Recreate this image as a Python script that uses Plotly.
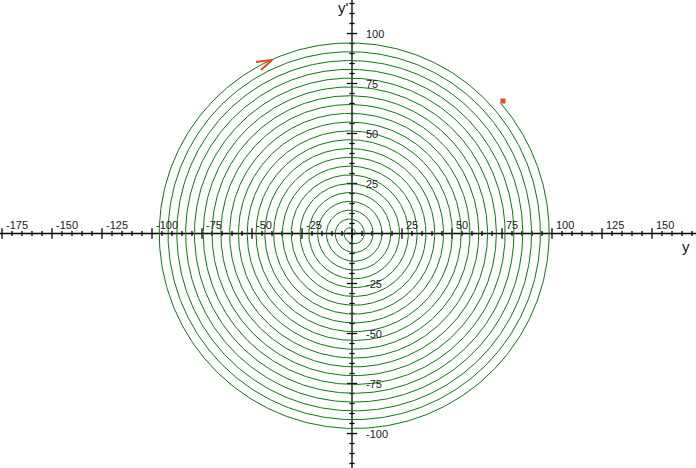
import numpy as np
import plotly.graph_objects as go

# ---- data ----
x_tick_labels = [-175, -150, -125, -100, -75, -50, -25, 25, 50, 75, 100, 125, 150]
y_tick_labels = [-100, -75, -50, -25, 25, 50, 75, 100]
marker_point = (75.5, 66.25)        # red square: initial state (y, y')
curve_start = (74.3, 65.2)          # where the green trajectory begins
friction = 1.1                       # amplitude lost per half swing / 2
arrow_pts_x = [-48.0, -40.0, -45.5]  # arrowhead barb - tip - barb
arrow_pts_y = [85.75, 86.75, 81.75]

X_RANGE = [-176, 172]
Y_RANGE = [-117.25, 116.75]

# ---- phase trajectory (clockwise, piecewise half circles) ----
xs, ys = [], []
y0, v0 = curve_start
c = -friction
R = np.hypot(y0 - c, v0)
a0 = np.arctan2(v0, y0 - c)
t = np.linspace(a0, 0, 120)
xs += list(c + R * np.cos(t)); ys += list(R * np.sin(t))
ext = c + R
upper = False
for _ in range(200):
    if abs(ext) <= friction:
        break
    c = friction if not upper else -friction
    R = abs(ext - c)
    if not upper:
        t = np.linspace(0, -np.pi, 240)
    else:
        t = np.linspace(np.pi, 0, 240)
    xs += list(c + R * np.cos(t)); ys += list(R * np.sin(t))
    ext = c + R * np.cos(t[-1])
    upper = not upper

fig = go.Figure()

# axes lines
fig.add_trace(go.Scatter(x=[X_RANGE[0], X_RANGE[1], None, 0, 0],
                         y=[0, 0, None, Y_RANGE[0], Y_RANGE[1]],
                         mode="lines", line=dict(color="black", width=1.3),
                         hoverinfo="skip", showlegend=False))

# tick marks
tx, ty = [], []
for v in range(-175, 175, 5):
    h = 2.6 if v % 25 == 0 else 1.3
    tx += [v, v, None]; ty += [-h, h, None]
for v in range(-115, 120, 5):
    h = 2.6 if v % 25 == 0 else 1.3
    tx += [-h, h, None]; ty += [v, v, None]
fig.add_trace(go.Scatter(x=tx, y=ty, mode="lines",
                         line=dict(color="black", width=1.3),
                         hoverinfo="skip", showlegend=False))

# spiral
fig.add_trace(go.Scatter(x=xs, y=ys, mode="lines",
                         line=dict(color="#0b7a0b", width=1),
                         hoverinfo="skip", showlegend=False))

# start marker and arrow
fig.add_trace(go.Scatter(x=[marker_point[0]], y=[marker_point[1]], mode="markers",
                         marker=dict(symbol="square", size=5, color="#e0502a"),
                         showlegend=False))
fig.add_trace(go.Scatter(x=arrow_pts_x, y=arrow_pts_y, mode="lines",
                         line=dict(color="#e8461e", width=2),
                         showlegend=False))

font = dict(family="Liberation Sans, Arial", size=11, color="#222")
for v in x_tick_labels:
    fig.add_annotation(x=v + 0.8, y=4.3, text=str(v), showarrow=False,
                       xanchor="left", yanchor="middle", font=font)
for v in y_tick_labels:
    fig.add_annotation(x=6.0, y=v, text=str(v), showarrow=False,
                       xanchor="left", yanchor="middle", font=font)
fig.add_annotation(x=167, y=-6.5, text="y", showarrow=False,
                   font=dict(family="Liberation Sans, Arial", size=15, color="#222"))
fig.add_annotation(x=-4.5, y=113, text="y'", showarrow=False,
                   font=dict(family="Liberation Sans, Arial", size=15, color="#222"))

fig.update_layout(width=696, height=468, margin=dict(l=0, r=0, t=0, b=0),
                  paper_bgcolor="white", plot_bgcolor="white",
                  xaxis=dict(range=X_RANGE, visible=False, fixedrange=True),
                  yaxis=dict(range=Y_RANGE, visible=False, fixedrange=True))
fig.write_html("out.html", config={"displayModeBar": False},
               post_script="document.body.style.margin='0';document.body.style.overflow='hidden';")
